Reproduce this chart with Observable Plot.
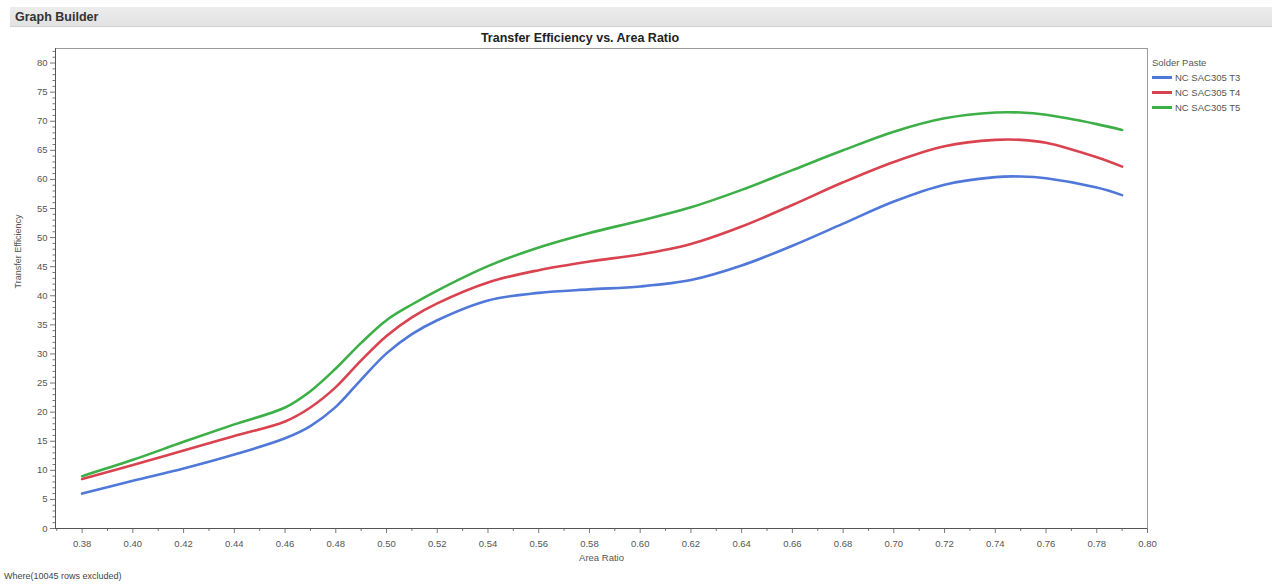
<!DOCTYPE html>
<html>
<head>
<meta charset="utf-8">
<script src="https://cdn.jsdelivr.net/npm/d3@7"></script>
<script src="https://cdn.jsdelivr.net/npm/@observablehq/plot@0.6"></script>
<style>
  html, body { margin: 0; padding: 0; background: #fff; }
  body { width: 1279px; height: 585px; position: relative; overflow: hidden; font-family: "Liberation Sans", Arial, sans-serif; }
  #hdr { position: absolute; left: 10px; top: 7px; width: 1262px; height: 20px; background: linear-gradient(#ececec, #e2e2e2); border-bottom: 1px solid #d0d0d0; font-weight: bold; font-size: 12.5px; color: #333; line-height: 20px; padding-left: 5px; box-sizing: border-box; }
  #title { position: absolute; top: 31px; left: 380px; width: 400px; text-align: center; font-weight: bold; font-size: 12.5px; color: #222; }
  #chart { position: absolute; left: 0; top: 0; }
  #legend { position: absolute; left: 1152px; top: 55px; font-size: 9.5px; color: #555; }
  #legend .row { display: flex; align-items: center; height: 15px; }
  #legend .sw { width: 20px; height: 2.5px; margin-right: 3px; }
  #foot { position: absolute; left: 4px; top: 571px; font-size: 9px; color: #444; }
</style>
</head>
<body>
<div id="chart"></div>
<div id="hdr">Graph Builder</div>
<div id="title">Transfer Efficiency vs. Area Ratio</div>
<div id="legend"></div>
<div id="foot">Where(10045 rows excluded)</div>
<script>
const areaRatio = [0.38, 0.40, 0.42, 0.44, 0.46, 0.47, 0.48, 0.49, 0.50, 0.51, 0.52, 0.54, 0.56, 0.58, 0.60, 0.62, 0.64, 0.66, 0.68, 0.70, 0.72, 0.74, 0.75, 0.76, 0.78, 0.79];
const t3 = [6.0, 8.2, 10.3, 12.7, 15.5, 17.6, 20.9, 25.6, 30.1, 33.4, 35.8, 39.2, 40.5, 41.1, 41.6, 42.7, 45.2, 48.6, 52.4, 56.2, 59.1, 60.4, 60.5, 60.2, 58.6, 57.3];
const t4 = [8.5, 10.9, 13.4, 15.9, 18.4, 20.8, 24.3, 28.9, 33.1, 36.3, 38.7, 42.3, 44.4, 45.9, 47.1, 48.9, 51.9, 55.6, 59.5, 63.0, 65.7, 66.8, 66.8, 66.3, 63.8, 62.2];
const t5 = [9.0, 11.8, 14.9, 17.9, 20.8, 23.6, 27.5, 31.9, 35.8, 38.5, 40.9, 45.1, 48.3, 50.8, 52.9, 55.2, 58.2, 61.6, 65.0, 68.2, 70.5, 71.5, 71.5, 71.1, 69.5, 68.5];
const seriesNames = ["NC SAC305 T3", "NC SAC305 T4", "NC SAC305 T5"];
const seriesColors = ["#4f78d9", "#d9434f", "#3caf46"];
const xTicks = [0.38, 0.40, 0.42, 0.44, 0.46, 0.48, 0.50, 0.52, 0.54, 0.56, 0.58, 0.60, 0.62, 0.64, 0.66, 0.68, 0.70, 0.72, 0.74, 0.76, 0.78, 0.80];
const xMinorTicks = [0.37, 0.39, 0.41, 0.43, 0.45, 0.47, 0.49, 0.51, 0.53, 0.55, 0.57, 0.59, 0.61, 0.63, 0.65, 0.67, 0.69, 0.71, 0.73, 0.75, 0.77, 0.79];
const yTicks = [0, 5, 10, 15, 20, 25, 30, 35, 40, 45, 50, 55, 60, 65, 70, 75, 80];
const yMinorTicks = d3.range(0, 83).filter(v => v % 5 !== 0);

const rows = [];
[t3, t4, t5].forEach((vals, i) => vals.forEach((v, j) => rows.push({paste: seriesNames[i], x: areaRatio[j], y: v})));

const chart = Plot.plot({
  width: 1279,
  height: 585,
  marginLeft: 55,
  marginRight: 132,
  marginTop: 48,
  marginBottom: 57,
  style: {fontFamily: "'Liberation Sans', Arial, sans-serif", fontSize: "9.5px", color: "#555", background: "transparent"},
  x: {domain: [0.3695, 0.80]},
  y: {domain: [0, 82.5]},
  color: {domain: seriesNames, range: seriesColors},
  marks: [
    Plot.frame({stroke: "#9a9a9a"}),
    Plot.axisX({ticks: xMinorTicks.filter(v => v > 0.3695), tickSize: 3, text: null, label: null, stroke: "#777"}),
    Plot.axisX({ticks: xTicks, tickSize: 5, tickFormat: d3.format(".2f"), tickPadding: 7, label: null, stroke: "#777", fill: "#555"}),
    Plot.axisY({ticks: yMinorTicks, tickSize: 2.5, text: null, label: null, stroke: "#777"}),
    Plot.axisY({ticks: yTicks, tickSize: 5, tickPadding: 3, label: null, stroke: "#777", fill: "#555"}),
    Plot.ruleX([0.3695], {stroke: "#555"}),
    Plot.ruleY([0], {stroke: "#555"}),
    Plot.text(["Area Ratio"], {frameAnchor: "bottom", dy: 32, fill: "#555", fontSize: 9.5}),
    Plot.text(["Transfer Efficiency"], {frameAnchor: "left", dx: -37, rotate: -90, fill: "#555", fontSize: 9}),
    Plot.line(rows, {x: "x", y: "y", stroke: "paste", z: "paste", strokeWidth: 2.6, curve: "catmull-rom"})
  ]
});
document.getElementById("chart").appendChild(chart);

const lg = document.getElementById("legend");
const head = document.createElement("div");
head.className = "row";
head.textContent = "Solder Paste";
lg.appendChild(head);
seriesNames.forEach((n, i) => {
  const r = document.createElement("div");
  r.className = "row";
  const s = document.createElement("span");
  s.className = "sw";
  s.style.background = seriesColors[i];
  r.appendChild(s);
  r.appendChild(document.createTextNode(n));
  lg.appendChild(r);
});
</script>
</body>
</html>
